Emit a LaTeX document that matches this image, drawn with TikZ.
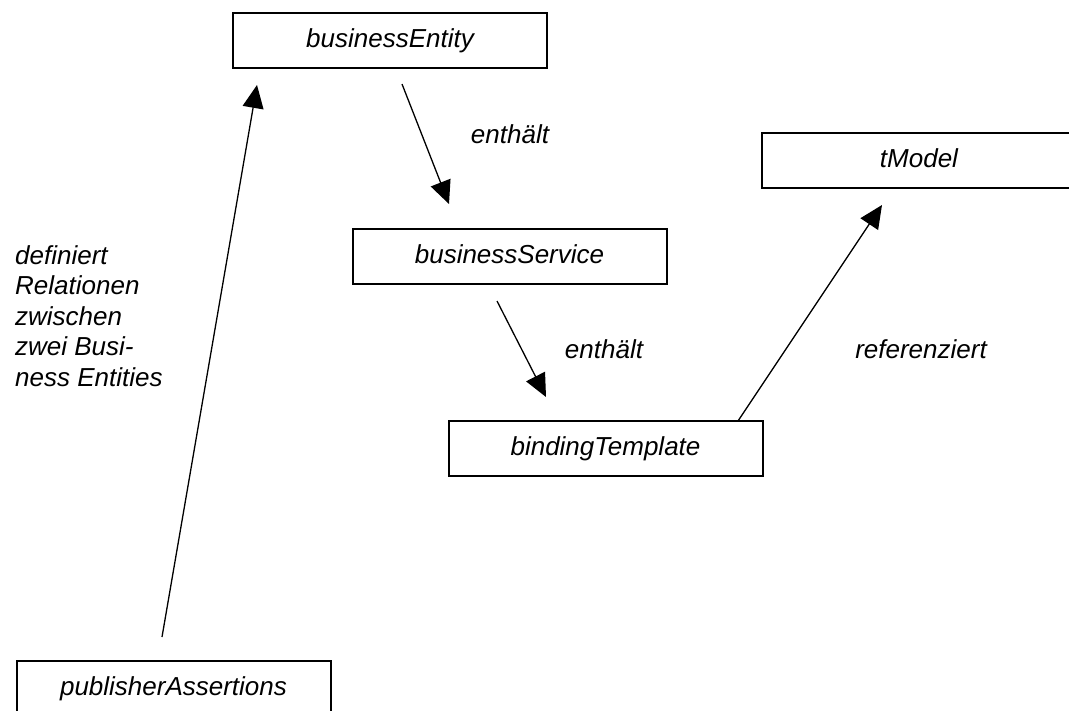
\documentclass[tikz,border=0pt]{standalone}
\usepackage{fontspec}
\setmainfont{Liberation Sans}
\usetikzlibrary{arrows.meta}
\begin{document}
\begin{tikzpicture}[x=1pt,y=-1pt,
  entity/.style={draw, line width=2pt, minimum width=314pt, minimum height=55pt,
    inner sep=0pt, outer sep=0pt, font=\itshape\fontsize{26}{30}\selectfont,
    text height=19pt, text depth=5pt},
  lbl/.style={font=\itshape\fontsize{26}{30.5}\selectfont, inner sep=0pt, anchor=base},
  rel/.style={line width=1.3pt, -{Triangle[length=23pt,width=21pt]}}]
\useasboundingbox (0,0) rectangle (1069,710);

% UDDI data structures
\node[entity] (be) at (390,40.5)    {businessEntity};
\node[entity] (tm) at (919,160.5)   {tModel};
\node[entity] (bs) at (509.5,256.5) {businessService};
\node[entity] (bt) at (605.5,448.5) {bindingTemplate};
\node[entity] (pa) at (173.5,688.5) {publisherAssertions};

% relation labels
\node[lbl] (l1) at (510,143) {enthält};
\node[lbl] (l2) at (604,358) {enthält};
\node[lbl] (l3) at (921,358) {referenziert};
\node[lbl, anchor=north west, align=left] (l4) at (15,245)
  {definiert\\Relationen\\zwischen\\zwei Busi-\\ness Entities};

% relations
\draw[rel] ([xshift=12pt,yshift=-16pt]be.south) -- ([xshift=-60.5pt,yshift=25pt]bs.north);
\draw[rel] ([xshift=-12.5pt,yshift=-17pt]bs.south) -- ([xshift=-59.5pt,yshift=24pt]bt.north);
\draw[rel] ([xshift=132.5pt]bt.north) -- ([xshift=-37pt,yshift=-17pt]tm.south);
\draw[rel] ([xshift=-11.5pt,yshift=24pt]pa.north) -- ([xshift=24pt,yshift=-17pt]be.south west);
\end{tikzpicture}
\end{document}
